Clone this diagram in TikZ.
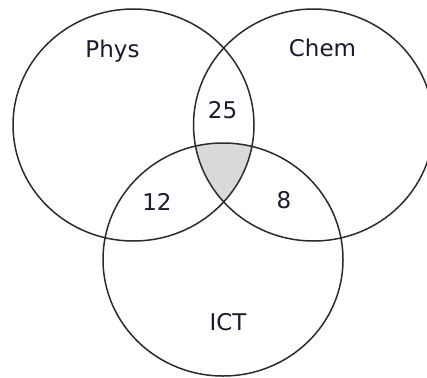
\documentclass[tikz,border=0pt]{standalone}
\usepackage{fontspec}
\setmainfont{DejaVu Sans}
\definecolor{linegray}{HTML}{2B2B2B}
\definecolor{fillgray}{HTML}{D9D9D9}
\definecolor{textcol}{HTML}{1A1A2E}
\begin{document}
\begin{tikzpicture}[x=1pt,y=-1pt,
  setline/.style={draw=linegray,line width=1.5pt},
  lbl/.style={anchor=base,inner sep=0pt,text=textcol,font=\fontsize{23}{28}\selectfont}]
\useasboundingbox (0,0) rectangle (427,377);
\begin{scope}
  \clip (133.5,125) ellipse [x radius=120.5pt, y radius=116pt];
  \clip (313.5,125) ellipse [x radius=120pt, y radius=116pt];
  \fill[fillgray] (223,259.5) ellipse [x radius=120pt, y radius=116.5pt];
\end{scope}
\draw[setline] (133.5,125) ellipse [x radius=120.5pt, y radius=116pt];
\draw[setline] (313.5,125) ellipse [x radius=120pt, y radius=116pt];
\draw[setline] (223,259.5) ellipse [x radius=120pt, y radius=116.5pt];
\node[lbl] (phys) at (112.5,58) {Phys};
\node[lbl] (chem) at (322.5,57) {Chem};
\node[lbl] (n25) at (222.5,118) {25};
\node[lbl] (n12) at (157,210) {12};
\node[lbl] (n8) at (284,208.5) {8};
\node[lbl] (ict) at (228,330) {ICT};
\end{tikzpicture}
\end{document}
